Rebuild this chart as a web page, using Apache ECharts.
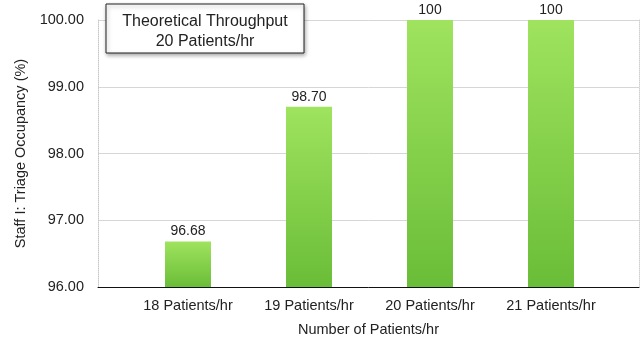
<!DOCTYPE html>
<html>
<head>
<meta charset="utf-8">
<script src="https://cdn.jsdelivr.net/npm/echarts@6/dist/echarts.min.js"></script>
<style>
  html, body { margin: 0; padding: 0; background: #fff; }
  #chart { width: 640px; height: 339px; }
</style>
</head>
<body>
<div id="chart"></div>
<script>
// Triage occupancy for staff I at different arrival rates
const categories = ['18 Patients/hr', '19 Patients/hr', '20 Patients/hr', '21 Patients/hr'];
const occupancy = [96.68, 98.70, 100, 100];
const yTicks = [96, 97, 98, 99, 100];
const noteLines = ['Theoretical Throughput', '20 Patients/hr'];

const FONT = '"Liberation Sans", Arial, Helvetica, sans-serif';
const yMin = yTicks[0];
const yMax = yTicks[yTicks.length - 1];

const chart = echarts.init(document.getElementById('chart'), null, { renderer: 'canvas' });

const option = {
  animation: false,
  backgroundColor: '#ffffff',
  textStyle: { fontFamily: FONT },
  grid: [
    // frame: axis line, gridlines and y labels
    { left: 98, right: 1, top: 20, bottom: 52, outerBoundsMode: 'none', containLabel: false },
    // bars sit in the inner band of the frame
    { left: 127.5, width: 484, top: 20, bottom: 52, outerBoundsMode: 'none', containLabel: false }
  ],
  xAxis: [
    {
      type: 'value', gridIndex: 0, min: 0, max: 1,
      axisLine: { show: true, lineStyle: { color: '#111', width: 1 } },
      axisTick: { show: false },
      axisLabel: { show: false },
      splitLine: { show: false },
      name: 'Number of Patients/hr',
      nameLocation: 'middle',
      nameGap: 35,
      nameTextStyle: { color: '#222', fontSize: 14.5, fontFamily: FONT }
    },
    {
      type: 'category', gridIndex: 1, data: categories,
      axisLine: { show: false },
      axisTick: { show: false },
      axisLabel: { color: '#222', fontSize: 14.5, margin: 11, fontFamily: FONT },
      splitLine: { show: false }
    }
  ],
  yAxis: [
    {
      type: 'value', gridIndex: 0, min: yMin, max: yMax, interval: 1,
      axisLine: { show: true, lineStyle: { color: '#c8c8c8', type: [1, 1], width: 1 } },
      axisTick: { show: false },
      axisLabel: {
        color: '#222', fontSize: 14.5, margin: 14, fontFamily: FONT,
        formatter: v => v.toFixed(2)
      },
      splitLine: { show: true, lineStyle: { color: '#d6d6d6', width: 1 } },
      name: 'Staff I: Triage Occupancy (%)',
      nameLocation: 'middle',
      nameGap: 70,
      nameTextStyle: { color: '#222', fontSize: 14.5, fontFamily: FONT }
    },
    {
      type: 'value', gridIndex: 0, min: yMin, max: yMax, interval: 1, position: 'right',
      axisLine: { show: true, lineStyle: { color: '#d0d0d0', type: [1, 1], width: 1 } },
      axisTick: { show: false },
      axisLabel: { show: false },
      splitLine: { show: false }
    },
    {
      type: 'value', gridIndex: 1, min: yMin, max: yMax, show: false
    }
  ],
  series: [
    {
      type: 'bar',
      xAxisIndex: 1,
      yAxisIndex: 2,
      data: occupancy,
      barWidth: '38%',
      itemStyle: {
        color: new echarts.graphic.LinearGradient(0, 0, 0, 1, [
          { offset: 0, color: '#9fe35e' },
          { offset: 1, color: '#6abd38' }
        ])
      },
      label: {
        show: true,
        position: 'top',
        distance: 3,
        color: '#222',
        fontSize: 14,
        fontFamily: FONT,
        formatter: p => (Number.isInteger(p.value) ? String(p.value) : p.value.toFixed(2))
      }
    }
  ],
  graphic: [
    {
      // note box with a soft drop shadow
      type: 'rect',
      x: 106,
      y: 4,
      z: 100,
      zlevel: 1,
      shape: { x: 0, y: 0, width: 198, height: 49 },
      style: {
        fill: '#ffffff',
        stroke: '#222',
        lineWidth: 1,
        shadowBlur: 4,
        shadowOffsetX: 1,
        shadowOffsetY: 2,
        shadowColor: 'rgba(0,0,0,0.35)'
      }
    },
    {
      type: 'text',
      x: 205,
      y: 12,
      z: 101,
      zlevel: 1,
      style: {
        text: noteLines.join('\n'),
        fill: '#222',
        fontSize: 16,
        lineHeight: 20,
        fontFamily: FONT,
        align: 'center'
      }
    }
  ]
};

chart.setOption(option);
</script>
</body>
</html>
